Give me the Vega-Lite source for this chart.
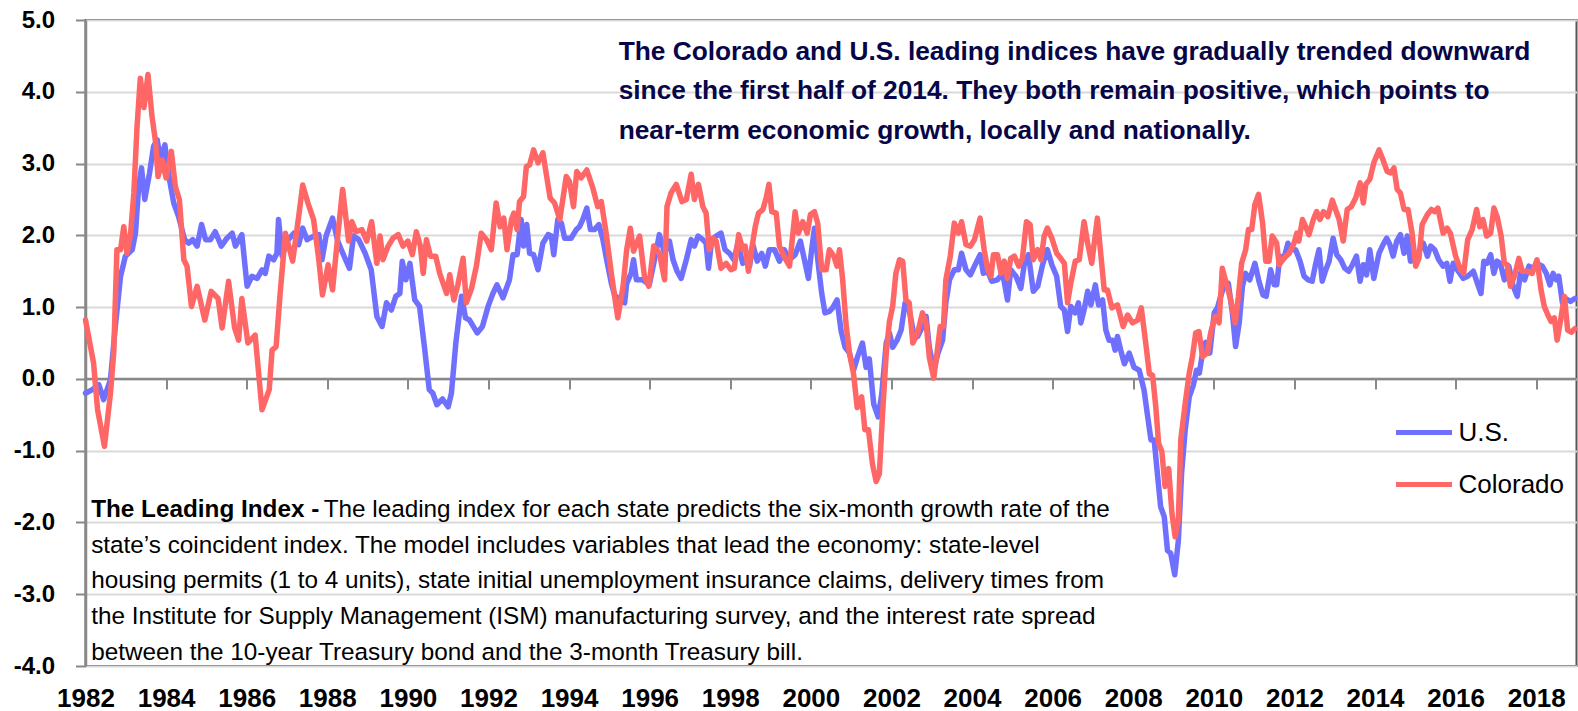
{
  "$schema": "https://vega.github.io/schema/vega-lite/v6.json",
  "width": 1491,
  "height": 646,
  "autosize": "none",
  "padding": {"left": 85.5, "top": 20, "right": 1.5, "bottom": 45},
  "background": "white",
  "config": {
    "view": {"stroke": "#555555", "strokeWidth": 2},
    "font": "Liberation Sans, Arial, sans-serif"
  },
  "resolve": {"axis": {"x": "independent"}},
  "layer": [
    {
      "data": {"values": [{}]},
      "mark": {"type": "rule", "color": "#888888", "strokeWidth": 2.5},
      "encoding": {
        "x": {"datum": 1982, "type": "quantitative", "scale": {"domain": [1982, 2019], "nice": false, "zero": false},
          "axis": {"orient": "bottom", "offset": -287, "values": [1984,1986,1988,1990,1992,1994,1996,1998,2000,2002,2004,2006,2008,2010,2012,2014,2016,2018], "labels": false, "domain": false, "ticks": true, "tickSize": 10, "tickColor": "#888888", "tickWidth": 2, "grid": false, "title": null}},
        "x2": {"datum": 2019},
        "y": {"datum": 0, "type": "quantitative"}
      }
    },
    {
      "data": {"values": [
    {"year":1982.0,"value":-0.2,"series":"U.S."},{"year":1982.17,"value":-0.15,"series":"U.S."},{"year":1982.33,"value":-0.08,"series":"U.S."},{"year":1982.45,"value":-0.29,"series":"U.S."},{"year":1982.62,"value":-0.01,"series":"U.S."},{"year":1982.74,"value":0.73,"series":"U.S."},{"year":1982.87,"value":1.43,"series":"U.S."},{"year":1982.99,"value":1.71,"series":"U.S."},{"year":1983.16,"value":1.8,"series":"U.S."},{"year":1983.24,"value":2.03,"series":"U.S."},{"year":1983.32,"value":2.68,"series":"U.S."},{"year":1983.39,"value":2.94,"series":"U.S."},{"year":1983.47,"value":2.5,"series":"U.S."},{"year":1983.59,"value":2.87,"series":"U.S."},{"year":1983.69,"value":3.24,"series":"U.S."},{"year":1983.78,"value":3.33,"series":"U.S."},{"year":1983.86,"value":3.05,"series":"U.S."},{"year":1983.97,"value":3.26,"series":"U.S."},{"year":1984.07,"value":2.82,"series":"U.S."},{"year":1984.19,"value":2.45,"series":"U.S."},{"year":1984.31,"value":2.26,"series":"U.S."},{"year":1984.46,"value":1.94,"series":"U.S."},{"year":1984.56,"value":1.89,"series":"U.S."},{"year":1984.66,"value":1.94,"series":"U.S."},{"year":1984.77,"value":1.85,"series":"U.S."},{"year":1984.88,"value":2.15,"series":"U.S."},{"year":1984.98,"value":1.94,"series":"U.S."},{"year":1985.1,"value":1.94,"series":"U.S."},{"year":1985.22,"value":2.05,"series":"U.S."},{"year":1985.37,"value":1.85,"series":"U.S."},{"year":1985.51,"value":1.96,"series":"U.S."},{"year":1985.64,"value":2.03,"series":"U.S."},{"year":1985.72,"value":1.85,"series":"U.S."},{"year":1985.88,"value":2.01,"series":"U.S."},{"year":1986.01,"value":1.29,"series":"U.S."},{"year":1986.13,"value":1.43,"series":"U.S."},{"year":1986.26,"value":1.4,"series":"U.S."},{"year":1986.38,"value":1.52,"series":"U.S."},{"year":1986.46,"value":1.47,"series":"U.S."},{"year":1986.55,"value":1.71,"series":"U.S."},{"year":1986.67,"value":1.66,"series":"U.S."},{"year":1986.75,"value":1.75,"series":"U.S."},{"year":1986.79,"value":2.22,"series":"U.S."},{"year":1986.88,"value":1.71,"series":"U.S."},{"year":1987.0,"value":1.92,"series":"U.S."},{"year":1987.17,"value":2.03,"series":"U.S."},{"year":1987.29,"value":1.87,"series":"U.S."},{"year":1987.39,"value":2.1,"series":"U.S."},{"year":1987.5,"value":1.94,"series":"U.S."},{"year":1987.66,"value":1.99,"series":"U.S."},{"year":1987.79,"value":2.01,"series":"U.S."},{"year":1987.87,"value":1.66,"series":"U.S."},{"year":1987.97,"value":1.99,"series":"U.S."},{"year":1988.13,"value":2.24,"series":"U.S."},{"year":1988.26,"value":1.92,"series":"U.S."},{"year":1988.4,"value":1.73,"series":"U.S."},{"year":1988.55,"value":1.54,"series":"U.S."},{"year":1988.65,"value":1.99,"series":"U.S."},{"year":1988.78,"value":1.94,"series":"U.S."},{"year":1988.94,"value":1.75,"series":"U.S."},{"year":1989.09,"value":1.52,"series":"U.S."},{"year":1989.23,"value":0.87,"series":"U.S."},{"year":1989.36,"value":0.73,"series":"U.S."},{"year":1989.47,"value":1.06,"series":"U.S."},{"year":1989.59,"value":0.96,"series":"U.S."},{"year":1989.7,"value":1.15,"series":"U.S."},{"year":1989.8,"value":1.19,"series":"U.S."},{"year":1989.86,"value":1.64,"series":"U.S."},{"year":1989.95,"value":1.38,"series":"U.S."},{"year":1990.05,"value":1.61,"series":"U.S."},{"year":1990.17,"value":1.1,"series":"U.S."},{"year":1990.29,"value":1.01,"series":"U.S."},{"year":1990.42,"value":0.4,"series":"U.S."},{"year":1990.53,"value":-0.15,"series":"U.S."},{"year":1990.62,"value":-0.2,"series":"U.S."},{"year":1990.72,"value":-0.36,"series":"U.S."},{"year":1990.86,"value":-0.28,"series":"U.S."},{"year":1991.0,"value":-0.39,"series":"U.S."},{"year":1991.08,"value":-0.2,"series":"U.S."},{"year":1991.19,"value":0.5,"series":"U.S."},{"year":1991.33,"value":1.15,"series":"U.S."},{"year":1991.43,"value":0.85,"series":"U.S."},{"year":1991.53,"value":0.82,"series":"U.S."},{"year":1991.72,"value":0.64,"series":"U.S."},{"year":1991.85,"value":0.73,"series":"U.S."},{"year":1991.99,"value":1.01,"series":"U.S."},{"year":1992.11,"value":1.19,"series":"U.S."},{"year":1992.21,"value":1.31,"series":"U.S."},{"year":1992.36,"value":1.13,"series":"U.S."},{"year":1992.52,"value":1.38,"series":"U.S."},{"year":1992.61,"value":1.73,"series":"U.S."},{"year":1992.71,"value":1.73,"series":"U.S."},{"year":1992.81,"value":2.22,"series":"U.S."},{"year":1992.87,"value":1.85,"series":"U.S."},{"year":1992.95,"value":2.15,"series":"U.S."},{"year":1993.02,"value":1.75,"series":"U.S."},{"year":1993.12,"value":1.73,"series":"U.S."},{"year":1993.23,"value":1.52,"series":"U.S."},{"year":1993.35,"value":1.89,"series":"U.S."},{"year":1993.48,"value":2.01,"series":"U.S."},{"year":1993.56,"value":1.99,"series":"U.S."},{"year":1993.62,"value":1.73,"series":"U.S."},{"year":1993.72,"value":2.22,"series":"U.S."},{"year":1993.81,"value":2.17,"series":"U.S."},{"year":1993.89,"value":1.96,"series":"U.S."},{"year":1994.05,"value":1.96,"series":"U.S."},{"year":1994.18,"value":2.08,"series":"U.S."},{"year":1994.26,"value":2.12,"series":"U.S."},{"year":1994.34,"value":2.22,"series":"U.S."},{"year":1994.44,"value":2.38,"series":"U.S."},{"year":1994.53,"value":2.08,"series":"U.S."},{"year":1994.63,"value":2.08,"series":"U.S."},{"year":1994.74,"value":2.15,"series":"U.S."},{"year":1994.84,"value":1.94,"series":"U.S."},{"year":1994.94,"value":1.64,"series":"U.S."},{"year":1995.05,"value":1.33,"series":"U.S."},{"year":1995.13,"value":1.17,"series":"U.S."},{"year":1995.25,"value":1.1,"series":"U.S."},{"year":1995.38,"value":1.06,"series":"U.S."},{"year":1995.43,"value":1.33,"series":"U.S."},{"year":1995.54,"value":1.47,"series":"U.S."},{"year":1995.6,"value":1.66,"series":"U.S."},{"year":1995.67,"value":1.38,"series":"U.S."},{"year":1995.83,"value":1.38,"series":"U.S."},{"year":1995.99,"value":1.31,"series":"U.S."},{"year":1996.12,"value":1.66,"series":"U.S."},{"year":1996.24,"value":2.01,"series":"U.S."},{"year":1996.37,"value":1.75,"series":"U.S."},{"year":1996.49,"value":1.92,"series":"U.S."},{"year":1996.58,"value":1.66,"series":"U.S."},{"year":1996.68,"value":1.5,"series":"U.S."},{"year":1996.78,"value":1.4,"series":"U.S."},{"year":1996.91,"value":1.66,"series":"U.S."},{"year":1997.03,"value":1.94,"series":"U.S."},{"year":1997.11,"value":1.85,"series":"U.S."},{"year":1997.2,"value":1.99,"series":"U.S."},{"year":1997.32,"value":1.94,"series":"U.S."},{"year":1997.4,"value":1.89,"series":"U.S."},{"year":1997.46,"value":1.54,"series":"U.S."},{"year":1997.54,"value":1.94,"series":"U.S."},{"year":1997.65,"value":1.99,"series":"U.S."},{"year":1997.77,"value":2.03,"series":"U.S."},{"year":1997.87,"value":1.8,"series":"U.S."},{"year":1997.98,"value":1.75,"series":"U.S."},{"year":1998.09,"value":1.66,"series":"U.S."},{"year":1998.19,"value":1.89,"series":"U.S."},{"year":1998.31,"value":1.61,"series":"U.S."},{"year":1998.39,"value":1.68,"series":"U.S."},{"year":1998.48,"value":1.57,"series":"U.S."},{"year":1998.56,"value":1.87,"series":"U.S."},{"year":1998.67,"value":1.64,"series":"U.S."},{"year":1998.78,"value":1.75,"series":"U.S."},{"year":1998.87,"value":1.57,"series":"U.S."},{"year":1998.97,"value":1.8,"series":"U.S."},{"year":1999.1,"value":1.8,"series":"U.S."},{"year":1999.22,"value":1.64,"series":"U.S."},{"year":1999.34,"value":1.8,"series":"U.S."},{"year":1999.47,"value":1.66,"series":"U.S."},{"year":1999.61,"value":1.73,"series":"U.S."},{"year":1999.74,"value":1.92,"series":"U.S."},{"year":1999.86,"value":1.61,"series":"U.S."},{"year":1999.94,"value":1.4,"series":"U.S."},{"year":2000.02,"value":1.8,"series":"U.S."},{"year":2000.09,"value":2.1,"series":"U.S."},{"year":2000.19,"value":1.57,"series":"U.S."},{"year":2000.27,"value":1.19,"series":"U.S."},{"year":2000.35,"value":0.92,"series":"U.S."},{"year":2000.46,"value":0.94,"series":"U.S."},{"year":2000.54,"value":0.99,"series":"U.S."},{"year":2000.65,"value":1.1,"series":"U.S."},{"year":2000.75,"value":0.67,"series":"U.S."},{"year":2000.85,"value":0.44,"series":"U.S."},{"year":2000.96,"value":0.36,"series":"U.S."},{"year":2001.06,"value":0.12,"series":"U.S."},{"year":2001.16,"value":0.31,"series":"U.S."},{"year":2001.28,"value":0.5,"series":"U.S."},{"year":2001.37,"value":0.16,"series":"U.S."},{"year":2001.45,"value":0.28,"series":"U.S."},{"year":2001.56,"value":-0.35,"series":"U.S."},{"year":2001.67,"value":-0.53,"series":"U.S."},{"year":2001.76,"value":-0.21,"series":"U.S."},{"year":2001.87,"value":0.5,"series":"U.S."},{"year":2001.95,"value":0.64,"series":"U.S."},{"year":2002.03,"value":0.44,"series":"U.S."},{"year":2002.14,"value":0.54,"series":"U.S."},{"year":2002.24,"value":0.68,"series":"U.S."},{"year":2002.34,"value":1.06,"series":"U.S."},{"year":2002.44,"value":0.96,"series":"U.S."},{"year":2002.55,"value":0.64,"series":"U.S."},{"year":2002.65,"value":0.59,"series":"U.S."},{"year":2002.77,"value":0.73,"series":"U.S."},{"year":2002.86,"value":0.87,"series":"U.S."},{"year":2002.94,"value":0.44,"series":"U.S."},{"year":2003.05,"value":0.12,"series":"U.S."},{"year":2003.15,"value":0.35,"series":"U.S."},{"year":2003.27,"value":0.54,"series":"U.S."},{"year":2003.35,"value":1.06,"series":"U.S."},{"year":2003.44,"value":1.38,"series":"U.S."},{"year":2003.56,"value":1.52,"series":"U.S."},{"year":2003.66,"value":1.52,"series":"U.S."},{"year":2003.74,"value":1.75,"series":"U.S."},{"year":2003.85,"value":1.52,"series":"U.S."},{"year":2003.96,"value":1.45,"series":"U.S."},{"year":2004.06,"value":1.57,"series":"U.S."},{"year":2004.2,"value":1.73,"series":"U.S."},{"year":2004.28,"value":1.47,"series":"U.S."},{"year":2004.39,"value":1.5,"series":"U.S."},{"year":2004.49,"value":1.36,"series":"U.S."},{"year":2004.63,"value":1.38,"series":"U.S."},{"year":2004.76,"value":1.47,"series":"U.S."},{"year":2004.88,"value":1.1,"series":"U.S."},{"year":2004.96,"value":1.52,"series":"U.S."},{"year":2005.09,"value":1.43,"series":"U.S."},{"year":2005.21,"value":1.26,"series":"U.S."},{"year":2005.3,"value":1.61,"series":"U.S."},{"year":2005.4,"value":1.73,"series":"U.S."},{"year":2005.52,"value":1.22,"series":"U.S."},{"year":2005.63,"value":1.29,"series":"U.S."},{"year":2005.75,"value":1.59,"series":"U.S."},{"year":2005.87,"value":1.8,"series":"U.S."},{"year":2005.98,"value":1.59,"series":"U.S."},{"year":2006.1,"value":1.43,"series":"U.S."},{"year":2006.2,"value":1.01,"series":"U.S."},{"year":2006.29,"value":0.96,"series":"U.S."},{"year":2006.37,"value":0.66,"series":"U.S."},{"year":2006.45,"value":1.01,"series":"U.S."},{"year":2006.56,"value":0.92,"series":"U.S."},{"year":2006.64,"value":1.06,"series":"U.S."},{"year":2006.7,"value":0.78,"series":"U.S."},{"year":2006.78,"value":0.96,"series":"U.S."},{"year":2006.87,"value":1.22,"series":"U.S."},{"year":2006.95,"value":1.03,"series":"U.S."},{"year":2007.06,"value":1.31,"series":"U.S."},{"year":2007.14,"value":1.03,"series":"U.S."},{"year":2007.24,"value":1.1,"series":"U.S."},{"year":2007.32,"value":0.68,"series":"U.S."},{"year":2007.4,"value":0.54,"series":"U.S."},{"year":2007.49,"value":0.54,"series":"U.S."},{"year":2007.55,"value":0.4,"series":"U.S."},{"year":2007.61,"value":0.59,"series":"U.S."},{"year":2007.69,"value":0.4,"series":"U.S."},{"year":2007.78,"value":0.21,"series":"U.S."},{"year":2007.9,"value":0.36,"series":"U.S."},{"year":2008.02,"value":0.16,"series":"U.S."},{"year":2008.15,"value":0.12,"series":"U.S."},{"year":2008.27,"value":-0.16,"series":"U.S."},{"year":2008.35,"value":-0.49,"series":"U.S."},{"year":2008.44,"value":-0.85,"series":"U.S."},{"year":2008.52,"value":-0.85,"series":"U.S."},{"year":2008.6,"value":-1.32,"series":"U.S."},{"year":2008.68,"value":-1.78,"series":"U.S."},{"year":2008.77,"value":-1.92,"series":"U.S."},{"year":2008.85,"value":-2.39,"series":"U.S."},{"year":2008.93,"value":-2.43,"series":"U.S."},{"year":2009.03,"value":-2.73,"series":"U.S."},{"year":2009.12,"value":-2.25,"series":"U.S."},{"year":2009.2,"value":-1.32,"series":"U.S."},{"year":2009.29,"value":-0.71,"series":"U.S."},{"year":2009.39,"value":-0.25,"series":"U.S."},{"year":2009.49,"value":-0.09,"series":"U.S."},{"year":2009.57,"value":0.12,"series":"U.S."},{"year":2009.64,"value":0.08,"series":"U.S."},{"year":2009.72,"value":0.36,"series":"U.S."},{"year":2009.8,"value":0.51,"series":"U.S."},{"year":2009.9,"value":0.36,"series":"U.S."},{"year":2010.01,"value":0.92,"series":"U.S."},{"year":2010.09,"value":0.99,"series":"U.S."},{"year":2010.17,"value":1.15,"series":"U.S."},{"year":2010.25,"value":1.29,"series":"U.S."},{"year":2010.36,"value":1.33,"series":"U.S."},{"year":2010.46,"value":0.92,"series":"U.S."},{"year":2010.54,"value":0.45,"series":"U.S."},{"year":2010.63,"value":0.78,"series":"U.S."},{"year":2010.71,"value":1.29,"series":"U.S."},{"year":2010.79,"value":1.47,"series":"U.S."},{"year":2010.89,"value":1.38,"series":"U.S."},{"year":2011.02,"value":1.61,"series":"U.S."},{"year":2011.12,"value":1.36,"series":"U.S."},{"year":2011.22,"value":1.17,"series":"U.S."},{"year":2011.3,"value":1.15,"series":"U.S."},{"year":2011.41,"value":1.52,"series":"U.S."},{"year":2011.5,"value":1.31,"series":"U.S."},{"year":2011.56,"value":1.31,"series":"U.S."},{"year":2011.64,"value":1.71,"series":"U.S."},{"year":2011.74,"value":1.68,"series":"U.S."},{"year":2011.84,"value":1.89,"series":"U.S."},{"year":2011.91,"value":1.8,"series":"U.S."},{"year":2012.03,"value":1.8,"series":"U.S."},{"year":2012.14,"value":1.64,"series":"U.S."},{"year":2012.24,"value":1.43,"series":"U.S."},{"year":2012.34,"value":1.38,"series":"U.S."},{"year":2012.44,"value":1.36,"series":"U.S."},{"year":2012.53,"value":1.61,"series":"U.S."},{"year":2012.61,"value":1.8,"series":"U.S."},{"year":2012.69,"value":1.36,"series":"U.S."},{"year":2012.78,"value":1.52,"series":"U.S."},{"year":2012.86,"value":1.64,"series":"U.S."},{"year":2012.96,"value":1.96,"series":"U.S."},{"year":2013.05,"value":1.73,"series":"U.S."},{"year":2013.15,"value":1.66,"series":"U.S."},{"year":2013.25,"value":1.54,"series":"U.S."},{"year":2013.35,"value":1.5,"series":"U.S."},{"year":2013.44,"value":1.59,"series":"U.S."},{"year":2013.54,"value":1.71,"series":"U.S."},{"year":2013.63,"value":1.36,"series":"U.S."},{"year":2013.71,"value":1.59,"series":"U.S."},{"year":2013.79,"value":1.45,"series":"U.S."},{"year":2013.87,"value":1.8,"series":"U.S."},{"year":2013.97,"value":1.4,"series":"U.S."},{"year":2014.1,"value":1.75,"series":"U.S."},{"year":2014.2,"value":1.87,"series":"U.S."},{"year":2014.29,"value":1.96,"series":"U.S."},{"year":2014.37,"value":1.87,"series":"U.S."},{"year":2014.45,"value":1.71,"series":"U.S."},{"year":2014.54,"value":1.92,"series":"U.S."},{"year":2014.63,"value":2.01,"series":"U.S."},{"year":2014.72,"value":1.75,"series":"U.S."},{"year":2014.8,"value":1.99,"series":"U.S."},{"year":2014.88,"value":1.64,"series":"U.S."},{"year":2015.01,"value":1.66,"series":"U.S."},{"year":2015.09,"value":1.78,"series":"U.S."},{"year":2015.2,"value":1.89,"series":"U.S."},{"year":2015.3,"value":1.71,"series":"U.S."},{"year":2015.38,"value":1.85,"series":"U.S."},{"year":2015.48,"value":1.8,"series":"U.S."},{"year":2015.58,"value":1.66,"series":"U.S."},{"year":2015.69,"value":1.57,"series":"U.S."},{"year":2015.78,"value":1.61,"series":"U.S."},{"year":2015.86,"value":1.36,"series":"U.S."},{"year":2015.94,"value":1.61,"series":"U.S."},{"year":2016.04,"value":1.52,"series":"U.S."},{"year":2016.19,"value":1.4,"series":"U.S."},{"year":2016.3,"value":1.43,"series":"U.S."},{"year":2016.44,"value":1.5,"series":"U.S."},{"year":2016.54,"value":1.33,"series":"U.S."},{"year":2016.63,"value":1.19,"series":"U.S."},{"year":2016.7,"value":1.64,"series":"U.S."},{"year":2016.78,"value":1.61,"series":"U.S."},{"year":2016.87,"value":1.73,"series":"U.S."},{"year":2016.95,"value":1.47,"series":"U.S."},{"year":2017.03,"value":1.64,"series":"U.S."},{"year":2017.11,"value":1.61,"series":"U.S."},{"year":2017.21,"value":1.38,"series":"U.S."},{"year":2017.32,"value":1.57,"series":"U.S."},{"year":2017.43,"value":1.29,"series":"U.S."},{"year":2017.53,"value":1.15,"series":"U.S."},{"year":2017.61,"value":1.47,"series":"U.S."},{"year":2017.71,"value":1.38,"series":"U.S."},{"year":2017.82,"value":1.57,"series":"U.S."},{"year":2017.92,"value":1.54,"series":"U.S."},{"year":2018.02,"value":1.61,"series":"U.S."},{"year":2018.15,"value":1.57,"series":"U.S."},{"year":2018.25,"value":1.47,"series":"U.S."},{"year":2018.34,"value":1.31,"series":"U.S."},{"year":2018.42,"value":1.47,"series":"U.S."},{"year":2018.5,"value":1.38,"series":"U.S."},{"year":2018.56,"value":1.43,"series":"U.S."},{"year":2018.65,"value":1.06,"series":"U.S."},{"year":2018.73,"value":1.12,"series":"U.S."},{"year":2018.85,"value":1.08,"series":"U.S."},{"year":2018.96,"value":1.12,"series":"U.S."},
    {"year":1982.0,"value":0.82,"series":"Colorado"},{"year":1982.2,"value":0.22,"series":"Colorado"},{"year":1982.3,"value":-0.43,"series":"Colorado"},{"year":1982.47,"value":-0.94,"series":"Colorado"},{"year":1982.62,"value":-0.2,"series":"Colorado"},{"year":1982.7,"value":0.36,"series":"Colorado"},{"year":1982.78,"value":1.8,"series":"Colorado"},{"year":1982.87,"value":1.8,"series":"Colorado"},{"year":1982.95,"value":2.12,"series":"Colorado"},{"year":1983.03,"value":1.75,"series":"Colorado"},{"year":1983.12,"value":2.03,"series":"Colorado"},{"year":1983.2,"value":2.59,"series":"Colorado"},{"year":1983.28,"value":3.52,"series":"Colorado"},{"year":1983.36,"value":4.19,"series":"Colorado"},{"year":1983.45,"value":3.78,"series":"Colorado"},{"year":1983.55,"value":4.24,"series":"Colorado"},{"year":1983.65,"value":3.66,"series":"Colorado"},{"year":1983.74,"value":3.29,"series":"Colorado"},{"year":1983.8,"value":2.82,"series":"Colorado"},{"year":1983.9,"value":3.05,"series":"Colorado"},{"year":1984.0,"value":2.8,"series":"Colorado"},{"year":1984.13,"value":3.17,"series":"Colorado"},{"year":1984.23,"value":2.68,"series":"Colorado"},{"year":1984.33,"value":2.5,"series":"Colorado"},{"year":1984.44,"value":1.66,"series":"Colorado"},{"year":1984.52,"value":1.57,"series":"Colorado"},{"year":1984.63,"value":1.01,"series":"Colorado"},{"year":1984.77,"value":1.29,"series":"Colorado"},{"year":1984.96,"value":0.82,"series":"Colorado"},{"year":1985.12,"value":1.22,"series":"Colorado"},{"year":1985.29,"value":1.12,"series":"Colorado"},{"year":1985.39,"value":0.71,"series":"Colorado"},{"year":1985.55,"value":1.36,"series":"Colorado"},{"year":1985.7,"value":0.71,"series":"Colorado"},{"year":1985.8,"value":0.54,"series":"Colorado"},{"year":1985.88,"value":1.12,"series":"Colorado"},{"year":1986.03,"value":0.5,"series":"Colorado"},{"year":1986.21,"value":0.61,"series":"Colorado"},{"year":1986.38,"value":-0.43,"series":"Colorado"},{"year":1986.56,"value":-0.15,"series":"Colorado"},{"year":1986.63,"value":0.4,"series":"Colorado"},{"year":1986.73,"value":0.45,"series":"Colorado"},{"year":1986.83,"value":1.19,"series":"Colorado"},{"year":1986.96,"value":2.03,"series":"Colorado"},{"year":1987.14,"value":1.64,"series":"Colorado"},{"year":1987.29,"value":2.26,"series":"Colorado"},{"year":1987.39,"value":2.7,"series":"Colorado"},{"year":1987.52,"value":2.45,"series":"Colorado"},{"year":1987.66,"value":2.22,"series":"Colorado"},{"year":1987.79,"value":1.66,"series":"Colorado"},{"year":1987.88,"value":1.17,"series":"Colorado"},{"year":1988.02,"value":1.59,"series":"Colorado"},{"year":1988.13,"value":1.24,"series":"Colorado"},{"year":1988.26,"value":1.99,"series":"Colorado"},{"year":1988.38,"value":2.64,"series":"Colorado"},{"year":1988.53,"value":1.92,"series":"Colorado"},{"year":1988.61,"value":2.19,"series":"Colorado"},{"year":1988.71,"value":2.05,"series":"Colorado"},{"year":1988.86,"value":2.08,"series":"Colorado"},{"year":1988.98,"value":1.92,"series":"Colorado"},{"year":1989.1,"value":2.19,"series":"Colorado"},{"year":1989.23,"value":1.61,"series":"Colorado"},{"year":1989.31,"value":1.99,"series":"Colorado"},{"year":1989.38,"value":1.66,"series":"Colorado"},{"year":1989.51,"value":1.85,"series":"Colorado"},{"year":1989.63,"value":1.96,"series":"Colorado"},{"year":1989.76,"value":2.01,"series":"Colorado"},{"year":1989.88,"value":1.85,"series":"Colorado"},{"year":1990.0,"value":1.92,"series":"Colorado"},{"year":1990.11,"value":1.73,"series":"Colorado"},{"year":1990.21,"value":2.05,"series":"Colorado"},{"year":1990.31,"value":1.85,"series":"Colorado"},{"year":1990.38,"value":1.47,"series":"Colorado"},{"year":1990.46,"value":1.94,"series":"Colorado"},{"year":1990.56,"value":1.71,"series":"Colorado"},{"year":1990.69,"value":1.71,"series":"Colorado"},{"year":1990.79,"value":1.47,"series":"Colorado"},{"year":1990.96,"value":1.19,"series":"Colorado"},{"year":1991.04,"value":1.45,"series":"Colorado"},{"year":1991.14,"value":1.1,"series":"Colorado"},{"year":1991.24,"value":1.31,"series":"Colorado"},{"year":1991.37,"value":1.68,"series":"Colorado"},{"year":1991.45,"value":1.06,"series":"Colorado"},{"year":1991.58,"value":1.26,"series":"Colorado"},{"year":1991.7,"value":1.57,"series":"Colorado"},{"year":1991.82,"value":2.03,"series":"Colorado"},{"year":1991.95,"value":1.94,"series":"Colorado"},{"year":1992.07,"value":1.8,"series":"Colorado"},{"year":1992.19,"value":2.45,"series":"Colorado"},{"year":1992.29,"value":2.12,"series":"Colorado"},{"year":1992.38,"value":2.24,"series":"Colorado"},{"year":1992.46,"value":1.8,"series":"Colorado"},{"year":1992.57,"value":2.22,"series":"Colorado"},{"year":1992.63,"value":2.31,"series":"Colorado"},{"year":1992.71,"value":2.08,"series":"Colorado"},{"year":1992.77,"value":2.47,"series":"Colorado"},{"year":1992.87,"value":2.54,"series":"Colorado"},{"year":1992.94,"value":2.96,"series":"Colorado"},{"year":1993.02,"value":2.98,"series":"Colorado"},{"year":1993.12,"value":3.19,"series":"Colorado"},{"year":1993.23,"value":3.01,"series":"Colorado"},{"year":1993.35,"value":3.15,"series":"Colorado"},{"year":1993.43,"value":2.87,"series":"Colorado"},{"year":1993.53,"value":2.52,"series":"Colorado"},{"year":1993.64,"value":2.45,"series":"Colorado"},{"year":1993.77,"value":2.22,"series":"Colorado"},{"year":1993.93,"value":2.82,"series":"Colorado"},{"year":1994.01,"value":2.75,"series":"Colorado"},{"year":1994.11,"value":2.4,"series":"Colorado"},{"year":1994.19,"value":2.89,"series":"Colorado"},{"year":1994.3,"value":2.8,"series":"Colorado"},{"year":1994.44,"value":2.91,"series":"Colorado"},{"year":1994.59,"value":2.66,"series":"Colorado"},{"year":1994.71,"value":2.4,"series":"Colorado"},{"year":1994.8,"value":2.47,"series":"Colorado"},{"year":1994.92,"value":2.03,"series":"Colorado"},{"year":1995.05,"value":1.47,"series":"Colorado"},{"year":1995.13,"value":1.15,"series":"Colorado"},{"year":1995.21,"value":0.85,"series":"Colorado"},{"year":1995.34,"value":1.29,"series":"Colorado"},{"year":1995.43,"value":1.8,"series":"Colorado"},{"year":1995.52,"value":2.1,"series":"Colorado"},{"year":1995.6,"value":1.78,"series":"Colorado"},{"year":1995.75,"value":1.99,"series":"Colorado"},{"year":1995.87,"value":1.43,"series":"Colorado"},{"year":1995.98,"value":1.29,"series":"Colorado"},{"year":1996.1,"value":1.85,"series":"Colorado"},{"year":1996.24,"value":1.75,"series":"Colorado"},{"year":1996.37,"value":1.38,"series":"Colorado"},{"year":1996.43,"value":2.4,"series":"Colorado"},{"year":1996.53,"value":2.59,"series":"Colorado"},{"year":1996.66,"value":2.71,"series":"Colorado"},{"year":1996.8,"value":2.47,"series":"Colorado"},{"year":1996.91,"value":2.5,"series":"Colorado"},{"year":1997.03,"value":2.85,"series":"Colorado"},{"year":1997.11,"value":2.5,"series":"Colorado"},{"year":1997.21,"value":2.71,"series":"Colorado"},{"year":1997.32,"value":2.4,"series":"Colorado"},{"year":1997.4,"value":2.31,"series":"Colorado"},{"year":1997.48,"value":1.8,"series":"Colorado"},{"year":1997.57,"value":1.96,"series":"Colorado"},{"year":1997.65,"value":1.92,"series":"Colorado"},{"year":1997.77,"value":1.54,"series":"Colorado"},{"year":1997.9,"value":1.61,"series":"Colorado"},{"year":1998.02,"value":1.52,"series":"Colorado"},{"year":1998.1,"value":1.54,"series":"Colorado"},{"year":1998.21,"value":2.01,"series":"Colorado"},{"year":1998.31,"value":1.8,"series":"Colorado"},{"year":1998.37,"value":1.85,"series":"Colorado"},{"year":1998.45,"value":1.5,"series":"Colorado"},{"year":1998.53,"value":1.8,"series":"Colorado"},{"year":1998.62,"value":2.12,"series":"Colorado"},{"year":1998.7,"value":2.31,"series":"Colorado"},{"year":1998.81,"value":2.36,"series":"Colorado"},{"year":1998.89,"value":2.52,"series":"Colorado"},{"year":1998.96,"value":2.71,"series":"Colorado"},{"year":1999.03,"value":2.33,"series":"Colorado"},{"year":1999.14,"value":2.31,"series":"Colorado"},{"year":1999.22,"value":1.85,"series":"Colorado"},{"year":1999.33,"value":1.71,"series":"Colorado"},{"year":1999.47,"value":1.57,"series":"Colorado"},{"year":1999.61,"value":2.33,"series":"Colorado"},{"year":1999.69,"value":2.03,"series":"Colorado"},{"year":1999.8,"value":2.19,"series":"Colorado"},{"year":1999.91,"value":2.03,"series":"Colorado"},{"year":1999.99,"value":2.29,"series":"Colorado"},{"year":2000.09,"value":2.33,"series":"Colorado"},{"year":2000.17,"value":2.17,"series":"Colorado"},{"year":2000.27,"value":1.52,"series":"Colorado"},{"year":2000.38,"value":1.52,"series":"Colorado"},{"year":2000.46,"value":1.8,"series":"Colorado"},{"year":2000.57,"value":1.71,"series":"Colorado"},{"year":2000.65,"value":1.57,"series":"Colorado"},{"year":2000.71,"value":1.8,"series":"Colorado"},{"year":2000.79,"value":1.38,"series":"Colorado"},{"year":2000.87,"value":0.78,"series":"Colorado"},{"year":2000.96,"value":0.35,"series":"Colorado"},{"year":2001.06,"value":0.07,"series":"Colorado"},{"year":2001.15,"value":-0.4,"series":"Colorado"},{"year":2001.26,"value":-0.25,"series":"Colorado"},{"year":2001.34,"value":-0.71,"series":"Colorado"},{"year":2001.43,"value":-0.71,"series":"Colorado"},{"year":2001.53,"value":-1.19,"series":"Colorado"},{"year":2001.62,"value":-1.43,"series":"Colorado"},{"year":2001.7,"value":-1.32,"series":"Colorado"},{"year":2001.78,"value":-0.48,"series":"Colorado"},{"year":2001.87,"value":0.35,"series":"Colorado"},{"year":2001.95,"value":0.8,"series":"Colorado"},{"year":2002.03,"value":1.01,"series":"Colorado"},{"year":2002.11,"value":1.47,"series":"Colorado"},{"year":2002.2,"value":1.66,"series":"Colorado"},{"year":2002.28,"value":1.64,"series":"Colorado"},{"year":2002.36,"value":1.1,"series":"Colorado"},{"year":2002.44,"value":1.06,"series":"Colorado"},{"year":2002.53,"value":0.5,"series":"Colorado"},{"year":2002.65,"value":0.64,"series":"Colorado"},{"year":2002.77,"value":0.92,"series":"Colorado"},{"year":2002.86,"value":0.78,"series":"Colorado"},{"year":2002.94,"value":0.3,"series":"Colorado"},{"year":2003.05,"value":0.01,"series":"Colorado"},{"year":2003.13,"value":0.36,"series":"Colorado"},{"year":2003.21,"value":0.73,"series":"Colorado"},{"year":2003.29,"value":0.73,"series":"Colorado"},{"year":2003.35,"value":1.38,"series":"Colorado"},{"year":2003.46,"value":1.71,"series":"Colorado"},{"year":2003.56,"value":2.17,"series":"Colorado"},{"year":2003.66,"value":2.03,"series":"Colorado"},{"year":2003.74,"value":2.19,"series":"Colorado"},{"year":2003.85,"value":1.87,"series":"Colorado"},{"year":2003.96,"value":1.85,"series":"Colorado"},{"year":2004.06,"value":1.94,"series":"Colorado"},{"year":2004.2,"value":2.24,"series":"Colorado"},{"year":2004.3,"value":1.8,"series":"Colorado"},{"year":2004.39,"value":1.52,"series":"Colorado"},{"year":2004.47,"value":1.43,"series":"Colorado"},{"year":2004.53,"value":1.73,"series":"Colorado"},{"year":2004.63,"value":1.73,"series":"Colorado"},{"year":2004.72,"value":1.47,"series":"Colorado"},{"year":2004.8,"value":1.64,"series":"Colorado"},{"year":2004.88,"value":1.4,"series":"Colorado"},{"year":2004.96,"value":1.68,"series":"Colorado"},{"year":2005.05,"value":1.71,"series":"Colorado"},{"year":2005.16,"value":1.57,"series":"Colorado"},{"year":2005.25,"value":1.68,"series":"Colorado"},{"year":2005.35,"value":2.19,"series":"Colorado"},{"year":2005.44,"value":2.15,"series":"Colorado"},{"year":2005.52,"value":1.66,"series":"Colorado"},{"year":2005.63,"value":1.8,"series":"Colorado"},{"year":2005.71,"value":1.66,"series":"Colorado"},{"year":2005.79,"value":1.99,"series":"Colorado"},{"year":2005.87,"value":2.1,"series":"Colorado"},{"year":2005.98,"value":1.96,"series":"Colorado"},{"year":2006.1,"value":1.75,"series":"Colorado"},{"year":2006.2,"value":1.68,"series":"Colorado"},{"year":2006.29,"value":1.61,"series":"Colorado"},{"year":2006.37,"value":1.06,"series":"Colorado"},{"year":2006.45,"value":1.33,"series":"Colorado"},{"year":2006.56,"value":1.64,"series":"Colorado"},{"year":2006.66,"value":1.66,"series":"Colorado"},{"year":2006.78,"value":2.19,"series":"Colorado"},{"year":2006.87,"value":1.89,"series":"Colorado"},{"year":2006.97,"value":1.61,"series":"Colorado"},{"year":2007.11,"value":2.24,"series":"Colorado"},{"year":2007.2,"value":1.71,"series":"Colorado"},{"year":2007.28,"value":1.24,"series":"Colorado"},{"year":2007.36,"value":1.24,"series":"Colorado"},{"year":2007.47,"value":0.99,"series":"Colorado"},{"year":2007.61,"value":1.03,"series":"Colorado"},{"year":2007.75,"value":0.73,"series":"Colorado"},{"year":2007.86,"value":0.89,"series":"Colorado"},{"year":2007.98,"value":0.78,"series":"Colorado"},{"year":2008.11,"value":0.82,"series":"Colorado"},{"year":2008.2,"value":0.99,"series":"Colorado"},{"year":2008.31,"value":0.5,"series":"Colorado"},{"year":2008.4,"value":0.07,"series":"Colorado"},{"year":2008.48,"value":0.05,"series":"Colorado"},{"year":2008.56,"value":-0.39,"series":"Colorado"},{"year":2008.63,"value":-0.9,"series":"Colorado"},{"year":2008.71,"value":-1.01,"series":"Colorado"},{"year":2008.79,"value":-1.5,"series":"Colorado"},{"year":2008.88,"value":-1.25,"series":"Colorado"},{"year":2008.96,"value":-1.87,"series":"Colorado"},{"year":2009.04,"value":-2.2,"series":"Colorado"},{"year":2009.12,"value":-1.97,"series":"Colorado"},{"year":2009.18,"value":-0.85,"series":"Colorado"},{"year":2009.29,"value":-0.34,"series":"Colorado"},{"year":2009.39,"value":0.08,"series":"Colorado"},{"year":2009.47,"value":0.31,"series":"Colorado"},{"year":2009.55,"value":0.64,"series":"Colorado"},{"year":2009.63,"value":0.66,"series":"Colorado"},{"year":2009.72,"value":0.31,"series":"Colorado"},{"year":2009.84,"value":0.36,"series":"Colorado"},{"year":2009.92,"value":0.64,"series":"Colorado"},{"year":2010.03,"value":0.87,"series":"Colorado"},{"year":2010.13,"value":0.78,"series":"Colorado"},{"year":2010.21,"value":1.54,"series":"Colorado"},{"year":2010.31,"value":1.33,"series":"Colorado"},{"year":2010.42,"value":1.1,"series":"Colorado"},{"year":2010.53,"value":0.78,"series":"Colorado"},{"year":2010.61,"value":1.15,"series":"Colorado"},{"year":2010.69,"value":1.61,"series":"Colorado"},{"year":2010.79,"value":1.8,"series":"Colorado"},{"year":2010.86,"value":2.08,"series":"Colorado"},{"year":2010.94,"value":2.08,"series":"Colorado"},{"year":2011.02,"value":2.43,"series":"Colorado"},{"year":2011.11,"value":2.57,"series":"Colorado"},{"year":2011.21,"value":2.17,"series":"Colorado"},{"year":2011.29,"value":1.64,"series":"Colorado"},{"year":2011.37,"value":1.64,"series":"Colorado"},{"year":2011.45,"value":1.99,"series":"Colorado"},{"year":2011.56,"value":1.89,"series":"Colorado"},{"year":2011.62,"value":1.59,"series":"Colorado"},{"year":2011.74,"value":1.68,"series":"Colorado"},{"year":2011.87,"value":1.75,"series":"Colorado"},{"year":2011.99,"value":1.89,"series":"Colorado"},{"year":2012.06,"value":2.03,"series":"Colorado"},{"year":2012.11,"value":1.92,"series":"Colorado"},{"year":2012.2,"value":2.22,"series":"Colorado"},{"year":2012.28,"value":2.12,"series":"Colorado"},{"year":2012.36,"value":2.01,"series":"Colorado"},{"year":2012.47,"value":2.22,"series":"Colorado"},{"year":2012.55,"value":2.33,"series":"Colorado"},{"year":2012.63,"value":2.22,"series":"Colorado"},{"year":2012.72,"value":2.33,"series":"Colorado"},{"year":2012.83,"value":2.26,"series":"Colorado"},{"year":2012.94,"value":2.49,"series":"Colorado"},{"year":2013.02,"value":2.36,"series":"Colorado"},{"year":2013.11,"value":2.22,"series":"Colorado"},{"year":2013.21,"value":1.92,"series":"Colorado"},{"year":2013.31,"value":2.36,"series":"Colorado"},{"year":2013.41,"value":2.4,"series":"Colorado"},{"year":2013.52,"value":2.52,"series":"Colorado"},{"year":2013.63,"value":2.73,"series":"Colorado"},{"year":2013.71,"value":2.45,"series":"Colorado"},{"year":2013.77,"value":2.71,"series":"Colorado"},{"year":2013.87,"value":2.78,"series":"Colorado"},{"year":2013.97,"value":3.01,"series":"Colorado"},{"year":2014.1,"value":3.19,"series":"Colorado"},{"year":2014.2,"value":3.05,"series":"Colorado"},{"year":2014.3,"value":2.89,"series":"Colorado"},{"year":2014.39,"value":2.87,"series":"Colorado"},{"year":2014.47,"value":2.94,"series":"Colorado"},{"year":2014.55,"value":2.64,"series":"Colorado"},{"year":2014.63,"value":2.59,"series":"Colorado"},{"year":2014.72,"value":2.36,"series":"Colorado"},{"year":2014.82,"value":2.36,"series":"Colorado"},{"year":2014.92,"value":2.03,"series":"Colorado"},{"year":2015.01,"value":1.57,"series":"Colorado"},{"year":2015.09,"value":1.68,"series":"Colorado"},{"year":2015.17,"value":2.15,"series":"Colorado"},{"year":2015.3,"value":2.29,"series":"Colorado"},{"year":2015.4,"value":2.36,"series":"Colorado"},{"year":2015.48,"value":2.33,"series":"Colorado"},{"year":2015.56,"value":2.38,"series":"Colorado"},{"year":2015.69,"value":2.03,"series":"Colorado"},{"year":2015.79,"value":2.1,"series":"Colorado"},{"year":2015.87,"value":2.03,"series":"Colorado"},{"year":2016.0,"value":1.71,"series":"Colorado"},{"year":2016.12,"value":1.52,"series":"Colorado"},{"year":2016.2,"value":1.47,"series":"Colorado"},{"year":2016.3,"value":1.94,"series":"Colorado"},{"year":2016.41,"value":2.08,"series":"Colorado"},{"year":2016.52,"value":2.36,"series":"Colorado"},{"year":2016.6,"value":2.12,"series":"Colorado"},{"year":2016.68,"value":2.22,"series":"Colorado"},{"year":2016.77,"value":1.99,"series":"Colorado"},{"year":2016.87,"value":2.03,"series":"Colorado"},{"year":2016.95,"value":2.38,"series":"Colorado"},{"year":2017.03,"value":2.26,"series":"Colorado"},{"year":2017.13,"value":1.99,"series":"Colorado"},{"year":2017.21,"value":1.61,"series":"Colorado"},{"year":2017.28,"value":1.59,"series":"Colorado"},{"year":2017.36,"value":1.29,"series":"Colorado"},{"year":2017.46,"value":1.43,"series":"Colorado"},{"year":2017.57,"value":1.68,"series":"Colorado"},{"year":2017.65,"value":1.5,"series":"Colorado"},{"year":2017.78,"value":1.5,"series":"Colorado"},{"year":2017.9,"value":1.47,"series":"Colorado"},{"year":2018.02,"value":1.66,"series":"Colorado"},{"year":2018.12,"value":1.24,"series":"Colorado"},{"year":2018.2,"value":1.01,"series":"Colorado"},{"year":2018.29,"value":0.89,"series":"Colorado"},{"year":2018.37,"value":0.8,"series":"Colorado"},{"year":2018.45,"value":0.85,"series":"Colorado"},{"year":2018.52,"value":0.54,"series":"Colorado"},{"year":2018.62,"value":0.87,"series":"Colorado"},{"year":2018.7,"value":1.15,"series":"Colorado"},{"year":2018.78,"value":0.68,"series":"Colorado"},{"year":2018.87,"value":0.65,"series":"Colorado"},{"year":2018.96,"value":0.7,"series":"Colorado"}
      ]},
      "mark": {"type": "line", "strokeWidth": 5.5, "strokeJoin": "round", "strokeCap": "round"},
      "encoding": {
        "x": {"field": "year", "type": "quantitative",
          "scale": {"domain": [1982, 2019], "nice": false, "zero": false},
          "axis": {"orient": "bottom", "values": [1982,1984,1986,1988,1990,1992,1994,1996,1998,2000,2002,2004,2006,2008,2010,2012,2014,2016,2018], "format": "d", "domain": false, "ticks": false, "tickSize": 0, "labelPadding": 19, "labelFontSize": 26, "labelFontWeight": "bold", "labelColor": "#000000", "labelFlush": false, "labelOverlap": false, "grid": false, "title": null}},
        "y": {"field": "value", "type": "quantitative",
          "scale": {"domain": [-4, 5], "nice": false, "zero": false},
          "axis": {"values": [-4,-3,-2,-1,0,1,2,3,4,5], "labelExpr": "replace(format(datum.value, '.1f'), '−', '-')", "labelFontSize": 24, "labelFontWeight": "bold", "labelColor": "#000000", "tickSize": 10, "tickColor": "#888888", "tickWidth": 2, "domainColor": "#888888", "domainWidth": 2.5, "labelPadding": 21, "grid": true, "gridColor": "#d9d9d9", "gridWidth": 2, "title": null}},
        "color": {"field": "series", "type": "nominal",
          "scale": {"domain": ["U.S.", "Colorado"], "range": ["#7070FF", "#FF6666"]},
          "legend": {"orient": "none", "legendX": 1308, "legendY": 382, "title": null, "symbolType": "stroke", "symbolSize": 3136, "symbolStrokeWidth": 5, "labelFontSize": 26, "labelColor": "#000000", "labelOffset": 4, "rowPadding": 8, "labelLimit": 400}}
      }
    },
    {
      "data": {"values": [{}]},
      "mark": {"type": "text", "text": ["The Colorado and U.S. leading indices have gradually trended downward", "since the first half of 2014. They both remain positive, which points to", "near-term economic growth, locally and nationally."], "fontSize": 26.3, "fontWeight": "bold", "color": "#060648", "align": "left", "baseline": "alphabetic", "lineHeight": 39.5},
      "encoding": {
        "x": {"datum": 1995.23, "type": "quantitative", "axis": null},
        "y": {"datum": 4.449, "type": "quantitative"}
      }
    },
    {
      "data": {"values": [{}]},
      "mark": {"type": "text", "text": "The Leading Index -", "fontSize": 24.3, "fontWeight": "bold", "color": "#000000", "align": "left", "baseline": "alphabetic"},
      "encoding": {
        "x": {"datum": 1982.14, "type": "quantitative", "axis": null},
        "y": {"datum": -1.925, "type": "quantitative"}
      }
    },
    {
      "data": {"values": [{}]},
      "mark": {"type": "text", "text": "The leading index for each state predicts the six-month growth rate of the", "fontSize": 24.3, "color": "#000000", "align": "left", "baseline": "alphabetic"},
      "encoding": {
        "x": {"datum": 1987.91, "type": "quantitative", "axis": null},
        "y": {"datum": -1.925, "type": "quantitative"}
      }
    },
    {
      "data": {"values": [{}]},
      "mark": {"type": "text", "text": ["state’s coincident index. The model includes variables that lead the economy: state-level", "housing permits (1 to 4 units), state initial unemployment insurance claims, delivery times from", "the Institute for Supply Management (ISM) manufacturing survey, and the interest rate spread", "between the 10-year Treasury bond and the 3-month Treasury bill."], "fontSize": 24.3, "color": "#000000", "align": "left", "baseline": "alphabetic", "lineHeight": 35.7},
      "encoding": {
        "x": {"datum": 1982.14, "type": "quantitative", "axis": null},
        "y": {"datum": -2.4226, "type": "quantitative"}
      }
    }
  ]
}
